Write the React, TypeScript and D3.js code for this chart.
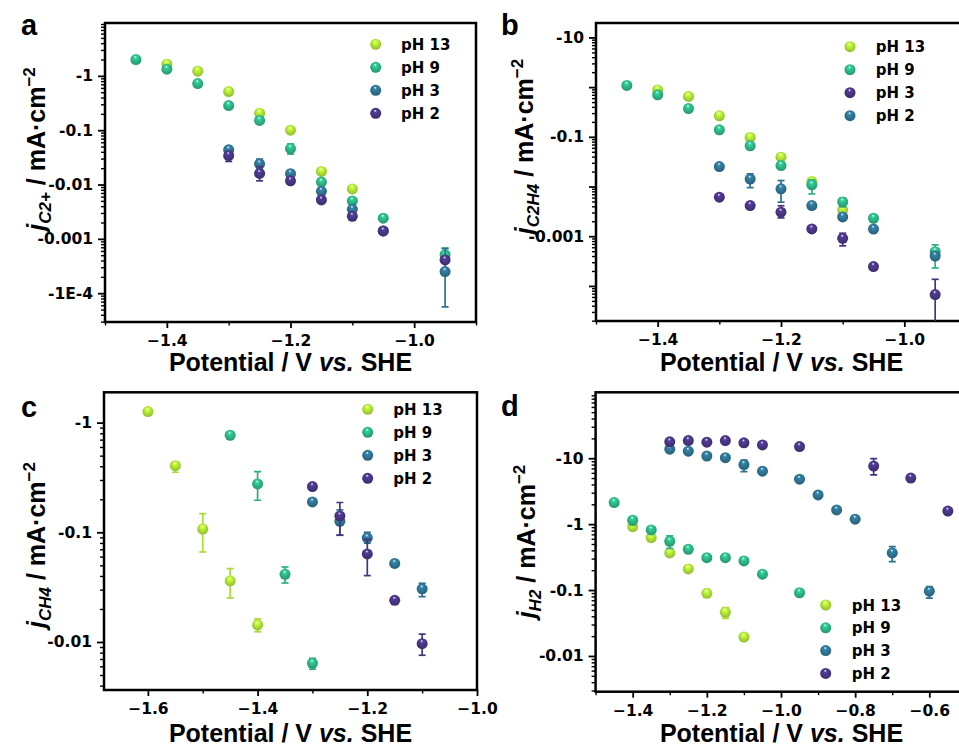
import React, { useEffect, useRef } from "react";
import * as d3 from "d3";

// series colours (viridis-ish)
const C13 = "#a8db34";
const C9 = "#2bb07f";
const C3 = "#2d708e";
const C2 = "#463480";

// [potential (V vs SHE), |j| (mA cm-2), error low, error high]
type Pt = [number, number, number?, number?];

// panel a: C2+
const a13: Pt[] = [[-1.4, 1.64], [-1.35, 1.22], [-1.3, 0.515], [-1.25, 0.206], [-1.2, 0.1], [-1.15, 0.0174], [-1.1, 0.0083]];
const a9: Pt[] = [[-1.45, 2.0], [-1.4, 1.33], [-1.35, 0.72], [-1.3, 0.284], [-1.25, 0.151], [-1.2, 0.046, 0.0363, 0.056], [-1.15, 0.0111], [-1.1, 0.005], [-1.05, 0.0024], [-0.95, 5.1e-4, 3.8e-4, 6.8e-4]];
const a3: Pt[] = [[-1.3, 0.0436, 0.035, 0.05], [-1.25, 0.024, 0.0195, 0.0294], [-1.2, 0.0158], [-1.15, 0.0075], [-1.1, 0.0035], [-1.05, 0.0014], [-0.95, 2.5e-4, 5.6e-5, 6.6e-4]];
const a2: Pt[] = [[-1.3, 0.034, 0.0266, 0.0406], [-1.25, 0.016, 0.0117, 0.0213], [-1.2, 0.0117], [-1.15, 0.0052], [-1.1, 0.0026], [-1.05, 0.0014], [-0.95, 4.1e-4]];

// panel b: C2H4
const b13: Pt[] = [[-1.4, 0.88], [-1.35, 0.65], [-1.3, 0.265], [-1.25, 0.097], [-1.2, 0.039], [-1.15, 0.0126, 0.0094, 0.015], [-1.1, 0.0034]];
const b9: Pt[] = [[-1.45, 1.08], [-1.4, 0.7], [-1.35, 0.37], [-1.3, 0.138], [-1.25, 0.066], [-1.2, 0.0264], [-1.15, 0.0108, 0.0071, 0.0136], [-1.1, 0.0049, 0.0039, 0.0059], [-1.05, 0.0023], [-0.95, 4.9e-4, 2.3e-4, 6.7e-4]];
const b3: Pt[] = [[-1.3, 0.0061], [-1.25, 0.00414], [-1.2, 0.00305, 0.00234, 0.0041], [-1.15, 0.0014], [-1.1, 9.1e-4, 6.4e-4, 0.00115], [-1.05, 2.45e-4], [-0.95, 6.7e-5, 1.3e-5, 1.36e-4]];
const b2: Pt[] = [[-1.3, 0.0252], [-1.25, 0.0141, 0.0095, 0.018], [-1.2, 0.009, 0.00484, 0.0132], [-1.15, 0.00414], [-1.1, 0.00245], [-1.05, 0.00139], [-0.95, 4.0e-4]];

// panel c: CH4
const c13: Pt[] = [[-1.6, 1.26], [-1.55, 0.405, 0.353, 0.44], [-1.5, 0.107, 0.0662, 0.148], [-1.45, 0.036, 0.0252, 0.0467], [-1.4, 0.0143, 0.0124, 0.0162]];
const c9: Pt[] = [[-1.45, 0.767], [-1.4, 0.276, 0.196, 0.357], [-1.35, 0.0414, 0.0345, 0.0483], [-1.3, 0.0064, 0.00564, 0.0071]];
const c3: Pt[] = [[-1.3, 0.189], [-1.25, 0.126, 0.0946, 0.16], [-1.2, 0.089, 0.0795, 0.1], [-1.15, 0.052], [-1.1, 0.0305, 0.0259, 0.0343]];
const c2: Pt[] = [[-1.3, 0.261], [-1.25, 0.141, 0.094, 0.187], [-1.2, 0.0635, 0.0403, 0.0865], [-1.15, 0.024], [-1.1, 0.00966, 0.00757, 0.0118]];

// panel d: H2
const d13: Pt[] = [[-1.4, 0.916], [-1.35, 0.624], [-1.3, 0.366], [-1.25, 0.209], [-1.2, 0.0893], [-1.15, 0.046, 0.0373, 0.054], [-1.1, 0.0194]];
const d9: Pt[] = [[-1.45, 2.12], [-1.4, 1.15, 0.973, 1.27], [-1.35, 0.817], [-1.3, 0.55, 0.43, 0.662], [-1.25, 0.416], [-1.2, 0.31], [-1.15, 0.31], [-1.1, 0.277], [-1.05, 0.174], [-0.95, 0.091]];
const d3s: Pt[] = [[-1.3, 13.7], [-1.25, 12.8], [-1.2, 10.8], [-1.15, 10.2], [-1.1, 8.0, 6.27, 9.4], [-1.05, 6.35], [-0.95, 4.8], [-0.9, 2.77], [-0.85, 1.64], [-0.8, 1.19], [-0.7, 0.366, 0.27, 0.456], [-0.6, 0.096, 0.0752, 0.113]];
const d2: Pt[] = [[-1.3, 17.7], [-1.25, 18.5], [-1.2, 17.5], [-1.15, 18.5], [-1.1, 17.1], [-1.05, 15.9], [-0.95, 15.0], [-0.75, 7.6, 5.58, 9.86], [-0.65, 5.0], [-0.55, 1.58]];

// tick values / labels
const xTicksA = [-1.4, -1.2, -1.0];
const xMinorA = [-1.5, -1.3, -1.1, -0.9];
const xTicksC = [-1.6, -1.4, -1.2, -1.0];
const xMinorC = [-1.5, -1.3, -1.1];
const xTicksD = [-1.4, -1.2, -1.0, -0.8, -0.6];
const xMinorD = [-1.5, -1.3, -1.1, -0.9, -0.7, -0.5];
const yTicksA = [1, 0.1, 0.01, 0.001, 1e-4];
const yLabelsA = ["-1", "-0.1", "-0.01", "-0.001", "-1E-4"];
const yTicksB = [10, 1, 0.1, 0.01, 0.001, 1e-4];
const yLabelsB = ["-10", "", "-0.1", "", "-0.001", ""];
const yTicksC = [1, 0.1, 0.01];
const yLabelsC = ["-1", "-0.1", "-0.01"];
const yTicksD = [10, 1, 0.1, 0.01];
const yLabelsD = ["-10", "-1", "-0.1", "-0.01"];

const BIG = "'Liberation Sans', Arial, Helvetica, sans-serif";
const SMALL = "'DejaVu Sans', sans-serif";

const panels = [
  {
    id: "a", sub: "C2+", box: [105, 476, 23, 322], xDom: [-1.5, -0.9], yDom: [2.95e-5, 9.4],
    xTicks: xTicksA, xMinor: xMinorA, yTicks: yTicksA, yLabels: yLabelsA,
    letter: [21, 35], ylab: [45, 149], xlab: [290.5, 371], legend: [375.7, 401, 44.3, 23],
    series: [
      { label: "pH 13", color: C13, data: a13 },
      { label: "pH 9", color: C9, data: a9 },
      { label: "pH 3", color: C3, data: a3 },
      { label: "pH 2", color: C2, data: a2 },
    ],
  },
  {
    id: "b", sub: "C2H4", box: [596, 966, 23, 321], xDom: [-1.5, -0.9], yDom: [1.97e-5, 19.5],
    xTicks: xTicksA, xMinor: xMinorA, yTicks: yTicksB, yLabels: yLabelsB,
    letter: [501, 35], ylab: [533, 146.5], xlab: [781.5, 371], legend: [850, 875.7, 46.7, 23],
    series: [
      { label: "pH 13", color: C13, data: b13 },
      { label: "pH 9", color: C9, data: b9 },
      { label: "pH 3", color: C2, data: b3 },
      { label: "pH 2", color: C3, data: b2 },
    ],
  },
  {
    id: "c", sub: "CH4", box: [104, 477, 392.3, 690], xDom: [-1.68, -1.0], yDom: [0.00365, 1.89],
    xTicks: xTicksC, xMinor: xMinorC, yTicks: yTicksC, yLabels: yLabelsC,
    letter: [21, 416.7], ylab: [45, 545], xlab: [290.5, 742], legend: [367.7, 393.3, 409.3, 23],
    series: [
      { label: "pH 13", color: C13, data: c13 },
      { label: "pH 9", color: C9, data: c9 },
      { label: "pH 3", color: C3, data: c3 },
      { label: "pH 2", color: C2, data: c2 },
    ],
  },
  {
    id: "d", sub: "H2", box: [595.6, 966.4, 392.3, 691.7], xDom: [-1.5, -0.5], yDom: [0.00287, 100],
    xTicks: xTicksD, xMinor: xMinorD, yTicks: yTicksD, yLabels: yLabelsD,
    letter: [501, 416], ylab: [535, 541.5], xlab: [781.5, 742], legend: [825.7, 851.7, 605, 22.8],
    series: [
      { label: "pH 13", color: C13, data: d13 },
      { label: "pH 9", color: C9, data: d9 },
      { label: "pH 3", color: C3, data: d3s },
      { label: "pH 2", color: C2, data: d2 },
    ],
  },
];

const gradId = (c: string) => "g" + c.slice(1);

function drawPanel(svg: any, p: any) {
  const [x0, x1, y0, y1] = p.box;
  const x = d3.scaleLinear().domain(p.xDom).range([x0, x1]);
  const y = d3.scaleLog().domain(p.yDom).range([y1, y0]);
  const g = svg.append("g");

  g.append("clipPath").attr("id", "clip" + p.id)
    .append("rect").attr("x", x0).attr("y", y0).attr("width", x1 - x0).attr("height", y1 - y0);

  // y minor ticks
  const minors: number[] = [];
  for (let e = -6; e <= 2; e++)
    for (let k = 2; k <= 9; k++) {
      const v = k * Math.pow(10, e);
      if (v >= p.yDom[0] && v <= p.yDom[1]) minors.push(v);
    }
  const yMin = g.append("g").attr("transform", `translate(${x0},0)`)
    .call(d3.axisLeft(y).tickValues(minors).tickSize(4).tickFormat(() => ""));
  const yMaj = g.append("g").attr("transform", `translate(${x0},0)`)
    .call(d3.axisLeft(y).tickValues(p.yTicks).tickSize(7).tickPadding(5)
      .tickFormat((_d: any, i: number) => p.yLabels[i]));
  const xMin = g.append("g").attr("transform", `translate(0,${y1})`)
    .call(d3.axisBottom(x).tickValues(p.xMinor).tickSize(3.5).tickFormat(() => ""));
  const xMaj = g.append("g").attr("transform", `translate(0,${y1})`)
    .call(d3.axisBottom(x).tickValues(p.xTicks).tickSize(6).tickPadding(7).tickFormat(d3.format(".1f")));

  [yMin, yMaj, xMin, xMaj].forEach((a) => {
    a.select(".domain").remove();
    a.selectAll("line").attr("stroke", "#000").attr("stroke-width", 1.8);
    a.selectAll("text").attr("fill", "#000").style("font-family", SMALL)
      .style("font-weight", "bold").style("font-size", "15.5px");
  });
  yMin.selectAll("line").attr("stroke-width", 1.4);
  xMin.selectAll("line").attr("stroke-width", 1.4);

  // frame
  g.append("rect").attr("x", x0).attr("y", y0).attr("width", x1 - x0).attr("height", y1 - y0)
    .attr("fill", "none").attr("stroke", "#000").attr("stroke-width", 2.5);

  // data
  const plot = g.append("g").attr("clip-path", `url(#clip${p.id})`);
  p.series.forEach((s: any) => {
    const sg = plot.append("g");
    const errs = s.data.filter((d: Pt) => d[2] !== undefined);
    const eg = sg.selectAll(".err").data(errs).join("g")
      .attr("stroke", s.color).attr("stroke-width", 1.7).attr("fill", "none");
    eg.append("line").attr("x1", (d: Pt) => x(d[0])).attr("x2", (d: Pt) => x(d[0]))
      .attr("y1", (d: Pt) => y(d[2] as number)).attr("y2", (d: Pt) => y(d[3] as number));
    eg.append("line").attr("x1", (d: Pt) => x(d[0]) - 3.5).attr("x2", (d: Pt) => x(d[0]) + 3.5)
      .attr("y1", (d: Pt) => y(d[2] as number)).attr("y2", (d: Pt) => y(d[2] as number));
    eg.append("line").attr("x1", (d: Pt) => x(d[0]) - 3.5).attr("x2", (d: Pt) => x(d[0]) + 3.5)
      .attr("y1", (d: Pt) => y(d[3] as number)).attr("y2", (d: Pt) => y(d[3] as number));
    sg.selectAll("circle").data(s.data).join("circle")
      .attr("cx", (d: Pt) => x(d[0])).attr("cy", (d: Pt) => y(d[1])).attr("r", 5.5)
      .attr("fill", `url(#${gradId(s.color)})`);
  });

  // legend
  const [mx, tx, ly, dy] = p.legend;
  p.series.forEach((s: any, i: number) => {
    g.append("circle").attr("cx", mx).attr("cy", ly + i * dy).attr("r", 5.5)
      .attr("fill", `url(#${gradId(s.color)})`);
    g.append("text").attr("x", tx).attr("y", ly + i * dy + 5.5).text(s.label)
      .style("font-family", SMALL).style("font-weight", "bold").style("font-size", "15px");
  });

  // panel letter
  g.append("text").attr("x", p.letter[0]).attr("y", p.letter[1]).text(p.id)
    .style("font-family", BIG).style("font-weight", "bold").style("font-size", "29px");

  // x label
  const xl = g.append("text").attr("x", p.xlab[0]).attr("y", p.xlab[1]).attr("text-anchor", "middle")
    .style("font-family", BIG).style("font-weight", "bold").style("font-size", "25px")
    .style("white-space", "pre");
  xl.append("tspan").text("Potential / V ");
  xl.append("tspan").style("font-style", "italic").text("vs.");
  xl.append("tspan").text(" SHE");

  // y label
  const yl = g.append("text").attr("transform", `translate(${p.ylab[0]},${p.ylab[1]}) rotate(-90)`)
    .attr("text-anchor", "middle").style("font-family", BIG).style("font-weight", "bold")
    .style("font-size", "25px").style("white-space", "pre");
  yl.append("tspan").style("font-style", "italic").text("j");
  yl.append("tspan").style("font-style", "italic").style("font-size", "17px").attr("dy", 6).text(p.sub);
  yl.append("tspan").attr("dy", -6).text(" / mA·cm");
  yl.append("tspan").style("font-size", "17px").attr("dy", -10).text("−2");
}

export default function App() {
  const svgRef = useRef<SVGSVGElement>(null);

  useEffect(() => {
    const svg = d3.select(svgRef.current);
    svg.selectAll("*").remove();
    const defs = svg.append("defs");
    [C13, C9, C3, C2].forEach((c) => {
      const gr = defs.append("radialGradient").attr("id", gradId(c))
        .attr("cx", "0.5").attr("cy", "0.45").attr("r", "0.6").attr("fx", "0.45").attr("fy", "0.25");
      gr.append("stop").attr("offset", "0").attr("stop-color", "#ffffff");
      gr.append("stop").attr("offset", "0.22").attr("stop-color", d3.color(c)!.brighter(0.5).formatHex());
      gr.append("stop").attr("offset", "0.6").attr("stop-color", c);
      gr.append("stop").attr("offset", "1").attr("stop-color", d3.color(c)!.darker(0.5).formatHex());
    });
    panels.forEach((p) => drawPanel(svg, p));
  }, []);

  return (
    <div style={{ position: "absolute", left: 0, top: 0 }}>
      <svg ref={svgRef} width={959} height={744} style={{ display: "block", background: "#fff" }} />
    </div>
  );
}
